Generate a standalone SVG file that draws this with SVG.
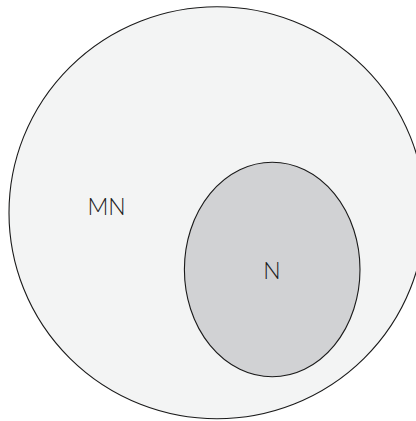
<svg xmlns="http://www.w3.org/2000/svg" width="416" height="421" viewBox="0 0 416 421">
<style>
.set{stroke:#1a1a1a;stroke-width:1.1}
.lbl{font-family:Lato,"Liberation Sans",sans-serif;font-weight:300;font-size:23px;fill:#1a1a1a;text-anchor:middle}
</style>
<rect width="416" height="421" fill="#ffffff"/>
<g id="MN">
<ellipse class="set" cx="217" cy="212.7" rx="208" ry="206" fill="#f3f4f4"/>
<text class="lbl" x="106.5" y="215">MN</text>
</g>
<g id="N">
<ellipse class="set" cx="272.2" cy="269.5" rx="87.8" ry="107.2" fill="#d1d2d4"/>
<text class="lbl" x="272" y="279">N</text>
</g>
<g id="connectors"/>
</svg>
